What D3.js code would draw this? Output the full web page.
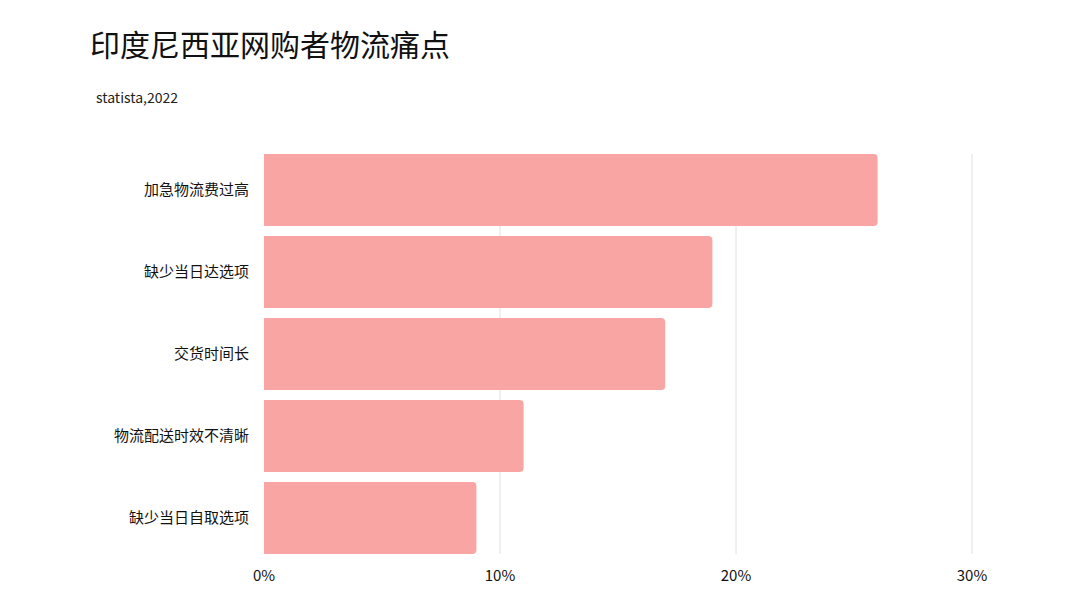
<!DOCTYPE html>
<html><head><meta charset="utf-8">
<script src="https://cdn.jsdelivr.net/npm/d3@7"></script>
<style>body{margin:0;background:#fff;}text{font-family:"Noto Sans CJK SC","Noto Sans",sans-serif;}</style>
</head><body><svg id="c" width="1080" height="608"></svg>
<script>
const categories=["加急物流费过高","缺少当日达选项","交货时间长","物流配送时效不清晰","缺少当日自取选项"];
const values=[26,19,17,11,9];
const ticks=[0,10,20,30];
const svg=d3.select("#c");
const x=d3.scaleLinear().domain([0,30]).range([264,972]);
const y=d3.scaleBand().domain(categories).range([149,559]).paddingInner(10/82).paddingOuter(5/82/ (1-10/82)*0);
svg.append("text").attr("x",90).attr("y",56).attr("font-size",30).attr("fill","#111").text("印度尼西亚网购者物流痛点");
svg.append("text").attr("x",96).attr("y",103).attr("font-size",14).attr("fill","#222").text("statista,2022");
ticks.slice(1).forEach(t=>svg.append("line").attr("x1",x(t)).attr("x2",x(t)).attr("y1",154).attr("y2",554).attr("stroke","#e2e2e2"));
const yb=d3.scaleBand().domain(categories).range([154-5,554+5]).paddingInner(10/82).paddingOuter(0.061);
svg.selectAll("path.bar").data(values).enter().append("path").attr("fill","#f9a5a3").attr("d",(v,i)=>{
 const y0=yb(categories[i])+(yb.bandwidth()-72)/2, h=72, x0=x(0), x1=x(v), r=4;
 return `M${x0},${y0}H${x1-r}Q${x1},${y0} ${x1},${y0+r}V${y0+h-r}Q${x1},${y0+h} ${x1-r},${y0+h}H${x0}Z`;});
categories.forEach((c,i)=>svg.append("text").attr("x",249).attr("y",yb(c)+yb.bandwidth()/2).attr("dy","0.35em").attr("text-anchor","end").attr("font-size",15).attr("fill","#111").text(c));
ticks.forEach(t=>svg.append("text").attr("x",x(t)).attr("y",581).attr("text-anchor","middle").attr("font-size",15).attr("fill","#111").text(t+"%"));
</script></body></html>
